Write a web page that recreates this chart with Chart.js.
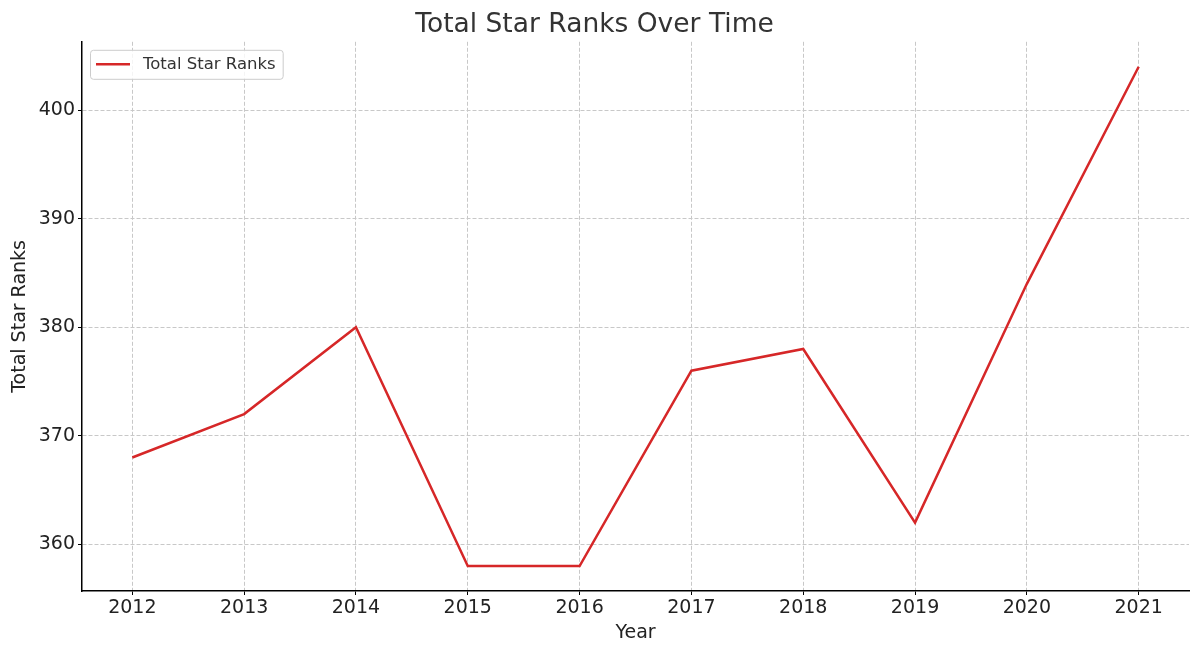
<!DOCTYPE html>
<html>
<head>
<meta charset="utf-8">
<script src="https://cdn.jsdelivr.net/npm/chart.js@4"></script>
<style>
  html, body { margin: 0; padding: 0; background: #fff; }
  #wrap { width: 1200px; height: 655px; }
</style>
</head>
<body>
<div id="wrap"><canvas id="chart" width="1200" height="655"></canvas></div>
<script>
const years = [2012, 2013, 2014, 2015, 2016, 2017, 2018, 2019, 2020, 2021];
const starRanks = [368, 372, 380, 358, 358, 376, 378, 362, 384, 404];
const yTicks = [360, 370, 380, 390, 400];

const FONT = "'DejaVu Sans', sans-serif";

// legend box drawn inside the plot, top left (matplotlib style)
const innerLegend = {
  id: "innerLegend",
  afterDraw(chart) {
    const ctx = chart.ctx;
    const area = chart.chartArea;
    const ds = chart.data.datasets[0];
    ctx.save();
    ctx.font = "16.5px " + FONT;
    const tw = ctx.measureText(ds.label).width;
    const x = area.left + 8, y = area.top + 8;
    const w = 53 + tw + 7, h = 29;
    ctx.fillStyle = "rgba(255,255,255,0.8)";
    ctx.strokeStyle = "#cccccc";
    ctx.lineWidth = 1;
    ctx.beginPath();
    ctx.roundRect(x + 0.5, y + 0.5, w, h, 3);
    ctx.fill();
    ctx.stroke();
    ctx.strokeStyle = ds.borderColor;
    ctx.lineWidth = ds.borderWidth;
    ctx.beginPath();
    ctx.moveTo(x + 6, y + 14.5);
    ctx.lineTo(x + 40, y + 14.5);
    ctx.stroke();
    ctx.fillStyle = "#333333";
    ctx.textBaseline = "middle";
    ctx.fillText(ds.label, x + 53, y + 15);
    ctx.restore();
  }
};

new Chart(document.getElementById("chart"), {
  type: "line",
  data: {
    datasets: [{
      label: "Total Star Ranks",
      data: years.map((y, i) => ({ x: y, y: starRanks[i] })),
      borderColor: "#d62728",
      borderWidth: 2.5,
      pointRadius: 0,
      tension: 0,
      fill: false
    }]
  },
  options: {
    responsive: false,
    animation: false,
    layout: { padding: { left: 0, right: 11, top: 0, bottom: 0 } },
    plugins: {
      legend: { display: false },
      tooltip: { enabled: false },
      title: {
        display: true,
        text: "Total Star Ranks Over Time",
        color: "#333333",
        font: { family: FONT, size: 26.5, weight: "normal" },
        padding: { top: 9, bottom: 1 }
      }
    },
    scales: {
      x: {
        type: "linear",
        min: 2011.55,
        max: 2021.45,
        afterBuildTicks: s => { s.ticks = years.map(v => ({ value: v })); },
        afterFit: s => { s.height = 64; },
        ticks: {
          color: "#222222",
          font: { family: FONT, size: 19 },
          padding: 2,
          maxRotation: 0,
          callback: v => String(v)
        },
        grid: {
          color: "#c8c8c8",
          lineWidth: 1,
          tickColor: "#000000",
          tickLength: 4,
          drawTicks: true
        },
        border: { display: true, color: "#000000", width: 1.5, dash: [4, 2] },
        title: {
          display: true,
          text: "Year",
          color: "#222222",
          font: { family: FONT, size: 19 },
          padding: { top: 0, bottom: 11 }
        }
      },
      y: {
        min: 355.7,
        max: 406.3,
        afterBuildTicks: s => { s.ticks = yTicks.map(v => ({ value: v })); },
        afterFit: s => { s.width = 82; },
        ticks: {
          color: "#222222",
          font: { family: FONT, size: 19 },
          padding: 3,
          callback: v => String(v)
        },
        grid: {
          color: "#c8c8c8",
          lineWidth: 1,
          tickColor: "#000000",
          tickLength: 4,
          drawTicks: true
        },
        border: { display: true, color: "#000000", width: 1.5, dash: [4, 2] },
        title: {
          display: true,
          text: "Total Star Ranks",
          color: "#222222",
          font: { family: FONT, size: 19 },
          padding: { top: 9, bottom: 0 }
        }
      }
    }
  },
  plugins: [innerLegend]
});
</script>
</body>
</html>
